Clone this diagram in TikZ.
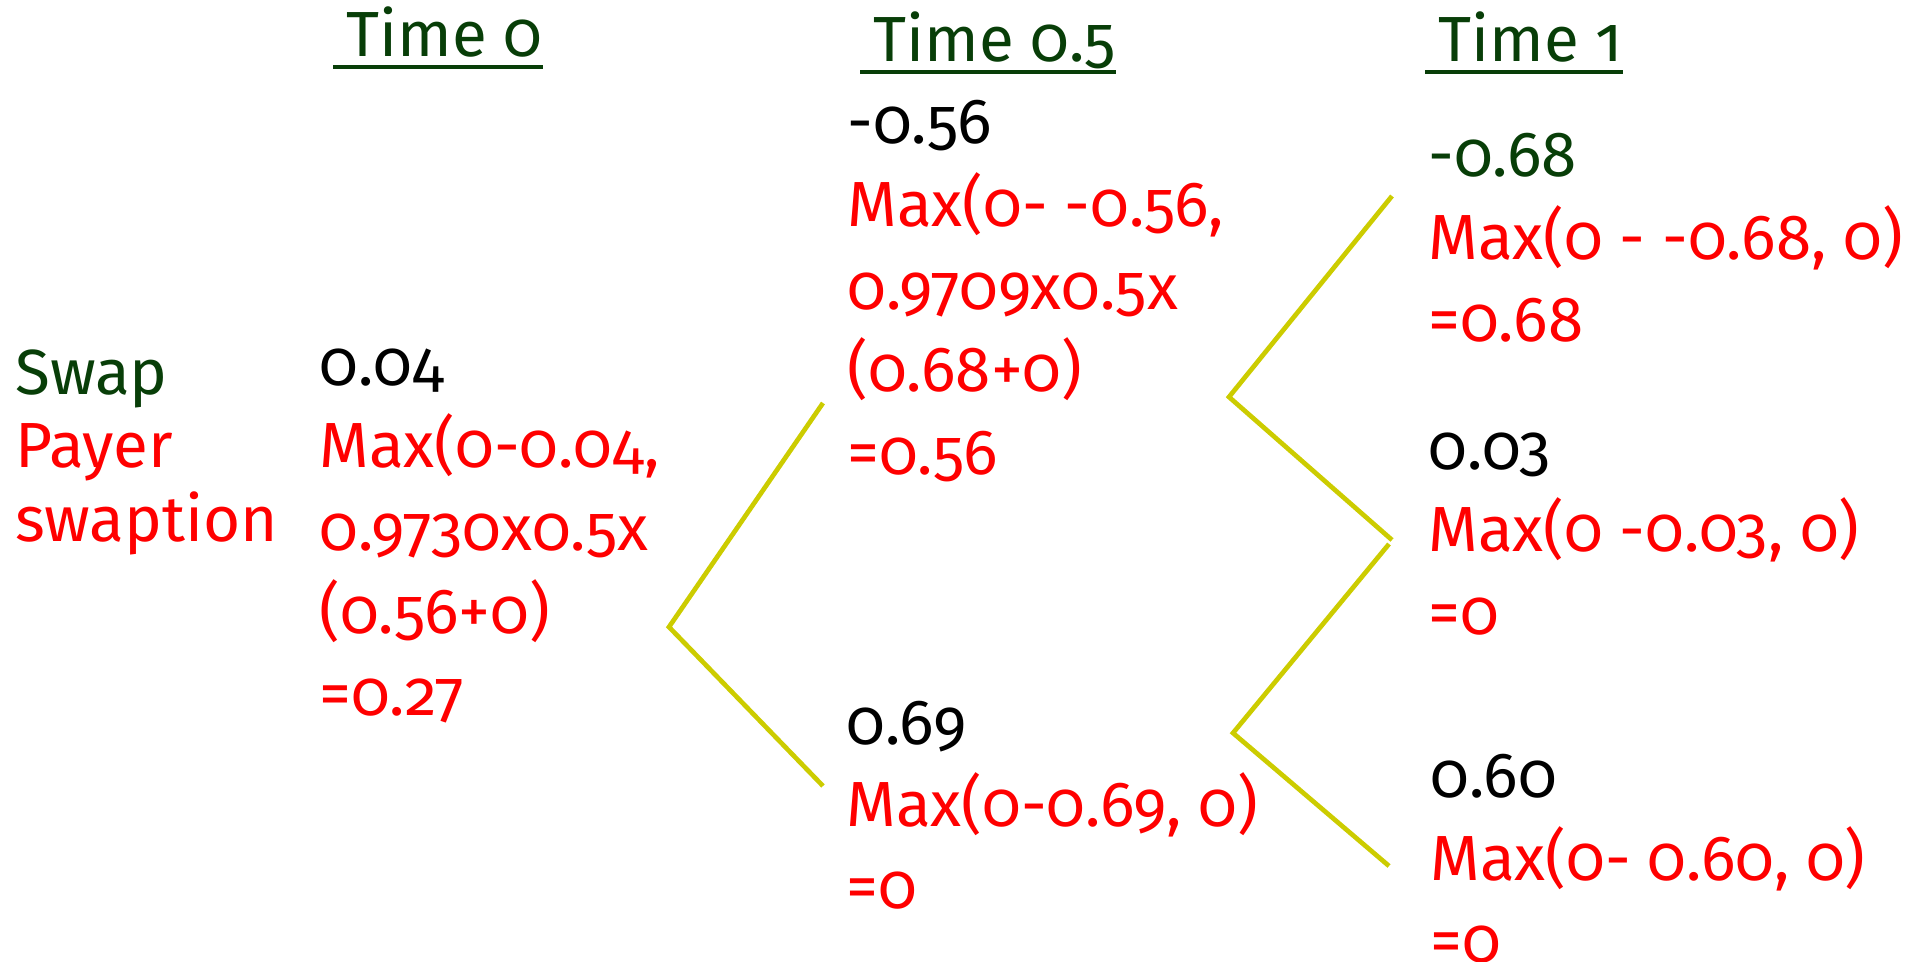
\documentclass[tikz,border=0pt]{standalone}
\usepackage{fontspec}
\setmainfont{Fira Sans}[Numbers=OldStyle]
\usetikzlibrary{calc}
\definecolor{dkgreen}{RGB}{8,62,8}
\definecolor{rred}{RGB}{255,0,0}
\definecolor{branchc}{RGB}{204,204,0}
\begin{document}
\begin{tikzpicture}[x=0.5pt,y=-0.5pt,
  txt/.style={anchor=base west,inner sep=0pt,font=\fontsize{31.9}{38}\selectfont},
  blk/.style={txt,text=black},
  rd/.style={txt,text=rred},
  gr/.style={txt,text=dkgreen},
  branch/.style={draw=branchc,line width=2.35pt,line cap=butt,line join=miter},
  uline/.style={draw=dkgreen,line width=2.15pt}]
\useasboundingbox (0,0) rectangle (1908,962);
% titles
\node[gr] (t0) at (346,57) {Time 0};
\node[gr] (t1) at (873,62) {Time 0.5};
\node[gr] (t2) at (1438,62) {Time 1};
\draw[uline] ($(t0.base west)+(-13,10)$) -- ($(t0.base east)+(0,10)$);
\draw[uline] ($(t1.base west)+(-13,10)$) -- ($(t1.base east)+(0,10)$);
\draw[uline] ($(t2.base west)+(-13,10)$) -- ($(t2.base east)+(0,10)$);
% left label
\node[gr] (lab1) at (15,395) {Swap};
\node[rd] (lab2) at (15,468) {Payer};
\node[rd] (lab3) at (15,542) {swaption};
% time 0 node
\node[blk] (a0) at (319,386) {0.04};
\node[rd] (a1) at (319,468) {Max(0-0.04,};
\node[rd] (a2) at (319,551) {0.9730x0.5x};
\node[rd] (a3) at (319,633) {(0.56+0)};
\node[rd] (a4) at (319,715) {=0.27};
% time 0.5 up
\node[blk] (b0) at (847,144) {-0.56};
\node[rd] (b1) at (847,227) {Max(0- -0.56,};
\node[rd] (b2) at (847,310) {0.9709x0.5x};
\node[rd] (b3) at (847,392) {(0.68+0)};
\node[rd] (b4) at (847,475) {=0.56};
% time 0.5 down
\node[blk] (c0) at (846,744) {0.69};
\node[rd] (c1) at (846,826) {Max(0-0.69, 0)};
\node[rd] (c2) at (846,908) {=0};
% time 1
\node[gr] (d0) at (1428,177) {-0.68};
\node[rd] (d1) at (1428,260) {Max(0 - -0.68, 0)};
\node[rd] (d2) at (1428,342) {=0.68};
\node[blk] (e0) at (1428,470) {0.03};
\node[rd] (e1) at (1428,552) {Max(0 -0.03, 0)};
\node[rd] (e2) at (1428,635) {=0};
\node[blk] (f0) at (1430,797) {0.60};
\node[rd] (f1) at (1430,880) {Max(0- 0.60, 0)};
\node[rd] (f2) at (1430,962) {=0};
% branches
\coordinate (v1) at (669,627);
\coordinate (v1u) at (823,403);
\coordinate (v1d) at (823,786);
\coordinate (v2) at (1229,397);
\coordinate (v2u) at (1392,196);
\coordinate (v2d) at (1392,540);
\coordinate (v3) at (1233,733);
\coordinate (v3u) at (1389,544);
\coordinate (v3d) at (1389,866);
\draw[branch] (v1u) -- (v1) -- (v1d);
\draw[branch] (v2u) -- (v2) -- (v2d);
\draw[branch] (v3u) -- (v3) -- (v3d);
\end{tikzpicture}
\end{document}
